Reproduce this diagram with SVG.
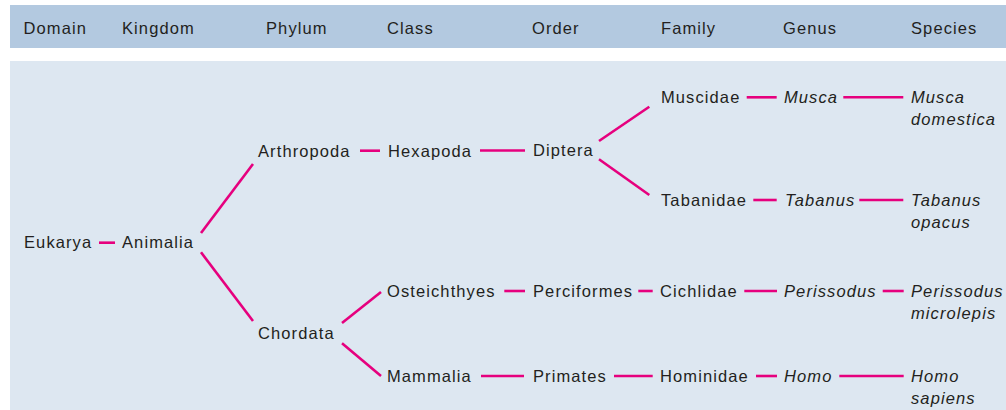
<svg xmlns="http://www.w3.org/2000/svg" width="1006" height="410" viewBox="0 0 1006 410">
<style>
text{font-family:"Liberation Sans",Arial,Helvetica,sans-serif;font-size:16.5px;letter-spacing:1.1px;fill:#231f20}
.i{font-style:italic}
#connectors line{stroke:#e6007e;stroke-width:2.6;stroke-linecap:butt}
</style>
<rect x="10" y="5" width="996" height="43" fill="#b3c9e0"/>
<rect x="10" y="61" width="996" height="349" fill="#dde7f1"/>
<g id="header">
<text x="23.5" y="34">Domain</text>
<text x="122" y="34">Kingdom</text>
<text x="266" y="34">Phylum</text>
<text x="387" y="34">Class</text>
<text x="532" y="34">Order</text>
<text x="661" y="34">Family</text>
<text x="783" y="34">Genus</text>
<text x="911" y="34">Species</text>
</g>
<g id="connectors">
<line x1="99" y1="242.7" x2="115" y2="242.7"/>
<line x1="201" y1="233" x2="253" y2="164"/>
<line x1="201" y1="252.3" x2="253" y2="321"/>
<line x1="360" y1="150.7" x2="380" y2="150.7"/>
<line x1="480" y1="150.5" x2="525" y2="150.5"/>
<line x1="599" y1="141" x2="649.3" y2="106.7"/>
<line x1="599" y1="159.3" x2="649.3" y2="195"/>
<line x1="746.7" y1="97.3" x2="776.7" y2="97.3"/>
<line x1="843.3" y1="97.3" x2="903.3" y2="97.3"/>
<line x1="753.3" y1="200" x2="776.7" y2="200"/>
<line x1="859.3" y1="200" x2="903.3" y2="200"/>
<line x1="342" y1="323" x2="381" y2="292"/>
<line x1="342" y1="343.3" x2="381" y2="376"/>
<line x1="504.3" y1="291" x2="525" y2="291"/>
<line x1="638.3" y1="291" x2="652.7" y2="291"/>
<line x1="744.3" y1="291" x2="777" y2="291"/>
<line x1="882.7" y1="291" x2="903.7" y2="291"/>
<line x1="481" y1="376" x2="524" y2="376"/>
<line x1="614" y1="376" x2="652.7" y2="376"/>
<line x1="756" y1="376" x2="777" y2="376"/>
<line x1="839.3" y1="376" x2="903.7" y2="376"/>
</g>
<g id="eukarya"><text x="24" y="247.8">Eukarya</text></g>
<g id="animalia"><text x="122" y="247.8">Animalia</text></g>
<g id="arthropoda"><text x="258" y="157">Arthropoda</text></g>
<g id="chordata"><text x="258" y="339">Chordata</text></g>
<g id="hexapoda"><text x="388" y="156.5">Hexapoda</text></g>
<g id="osteichthyes"><text x="387" y="297">Osteichthyes</text></g>
<g id="mammalia"><text x="387" y="382">Mammalia</text></g>
<g id="diptera"><text x="533" y="156">Diptera</text></g>
<g id="perciformes"><text x="533" y="297">Perciformes</text></g>
<g id="primates"><text x="533" y="382">Primates</text></g>
<g id="muscidae"><text x="661" y="103">Muscidae</text></g>
<g id="tabanidae"><text x="661" y="206">Tabanidae</text></g>
<g id="cichlidae"><text x="660" y="297">Cichlidae</text></g>
<g id="hominidae"><text x="660" y="382">Hominidae</text></g>
<g id="musca"><text class="i" x="784" y="103">Musca</text></g>
<g id="tabanus"><text class="i" x="785" y="206">Tabanus</text></g>
<g id="perissodus"><text class="i" x="784" y="297">Perissodus</text></g>
<g id="homo"><text class="i" x="784" y="382">Homo</text></g>
<g id="musca-domestica"><text class="i" x="911" y="103">Musca<tspan x="911" dy="21.5">domestica</tspan></text></g>
<g id="tabanus-opacus"><text class="i" x="911" y="206">Tabanus<tspan x="911" dy="21.5">opacus</tspan></text></g>
<g id="perissodus-microlepis"><text class="i" x="911" y="297">Perissodus<tspan x="911" dy="21.5">microlepis</tspan></text></g>
<g id="homo-sapiens"><text class="i" x="911" y="382">Homo<tspan x="911" dy="21.5">sapiens</tspan></text></g>
</svg>
